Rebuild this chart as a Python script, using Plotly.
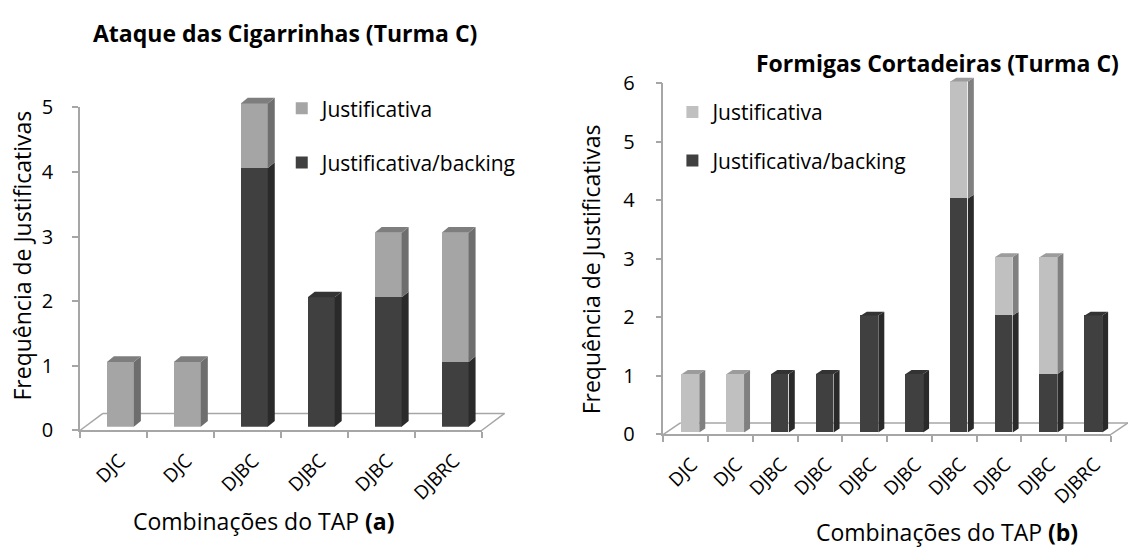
import plotly.graph_objects as go

# ---------------- data ----------------
cats_a = ["DJC", "DJC", "DJBC", "DJBC", "DJBC", "DJBRC"]
backing_a = [0, 0, 4, 2, 2, 1]        # Justificativa/backing (dark)
justif_a = [1, 1, 1, 0, 1, 2]         # Justificativa (light)

cats_b = ["DJC", "DJC", "DJBC", "DJBC", "DJBC", "DJBC", "DJBC", "DJBC", "DJBC", "DJBRC"]
backing_b = [0, 0, 1, 1, 2, 1, 4, 2, 1, 2]
justif_b = [1, 1, 0, 0, 0, 0, 2, 1, 2, 0]

title_a = "Ataque das Cigarrinhas (Turma C)"
title_b = "Formigas Cortadeiras (Turma C)"
ytitle = "Frequência de Justificativas"
xtitle_a = "Combinações do TAP <b>(a)</b>"
xtitle_b = "Combinações do TAP <b>(b)</b>"
name_j = "Justificativa"
name_jb = "Justificativa/backing"

# ---------------- layout constants (pixels) ----------------
W, H = 1128, 550
FONT = "Open Sans"
AX = "#a6a6a6"
DARK, DARK_SIDE, DARK_TOP = "#404040", "#2a2a2a", "#333333"
LA, LA_SIDE, LA_TOP = "#a5a5a5", "#6e6e6e", "#7e7e7e"
LB, LB_SIDE, LB_TOP = "#c0c0c0", "#808080", "#9c9c9c"


def fx(p):
    return p / W


def fy(p):
    return 1 - p / H


panels = [
    dict(cats=cats_a, dark=backing_a, light=justif_a, xa="x", ya="y", yb="y3",
         x0=79, x1=481, y0=438, y1=98, ymax=5, base=434,
         floor=(23, 18), depth=(7, 6), off_px=-6.5, w_px=27, standoff=15,
         light_cols=(LA, LA_SIDE, LA_TOP), legend="legend"),
    dict(cats=cats_b, dark=backing_b, light=justif_b, xa="x2", ya="y2", yb="y4",
         x0=663, x1=1111, y0=442, y1=73, ymax=6, base=440,
         floor=(17, 12), depth=(6, 4), off_px=-4, w_px=17.5, standoff=17,
         light_cols=(LB, LB_SIDE, LB_TOP), legend="legend2"),
]

fig = go.Figure()
shapes = []
layout = {}

for k, p in enumerate(panels):
    n = len(p["cats"])
    ux = (p["x1"] - p["x0"]) / n               # pixels per category
    uy = (p["y0"] - p["y1"]) / p["ymax"]       # pixels per unit
    off = p["off_px"] / ux
    wid = p["w_px"] / ux
    dxd = p["depth"][0] / ux
    dyd = p["depth"][1] / uy
    xs = list(range(n))

    # invisible trace so the visible value axis is drawn
    fig.add_trace(go.Scatter(x=xs, y=[None] * n, xaxis=p["xa"], yaxis=p["ya"], mode="markers",
                             showlegend=False, hoverinfo="skip"))
    fig.add_trace(go.Bar(x=xs, y=p["dark"], name=name_jb, xaxis=p["xa"], yaxis=p["yb"],
                         marker=dict(color=DARK, line=dict(width=0)), width=wid, offset=off,
                         legend=p["legend"], legendgroup=f"jb{k}", legendrank=2))
    fig.add_trace(go.Bar(x=xs, y=p["light"], name=name_j, xaxis=p["xa"], yaxis=p["yb"],
                         marker=dict(color=p["light_cols"][0], line=dict(width=0)), width=wid, offset=off,
                         legend=p["legend"], legendgroup=f"j{k}", legendrank=1))

    # 3D side and top faces, derived from the data
    for i in xs:
        xl = i + off
        xr = xl + wid
        segs = [(0, p["dark"][i], DARK_SIDE, DARK_TOP),
                (p["dark"][i], p["dark"][i] + p["light"][i], p["light_cols"][1], p["light_cols"][2])]
        segs = [s for s in segs if s[1] > s[0]]
        for j, (b, t, cs, ct) in enumerate(segs):
            shapes.append(dict(type="path", xref=p["xa"], yref=p["yb"], layer="above",
                               path=f"M{xr},{b} L{xr},{t} L{xr + dxd},{t + dyd} L{xr + dxd},{b + dyd} Z",
                               fillcolor=cs, line=dict(width=0)))
            if j == len(segs) - 1:
                shapes.append(dict(type="path", xref=p["xa"], yref=p["yb"], layer="above",
                                   path=f"M{xl},{t} L{xr},{t} L{xr + dxd},{t + dyd} L{xl + dxd},{t + dyd} Z",
                                   fillcolor=ct, line=dict(width=0)))

    # floor (back edge and side edges)
    fdx, fdy = p["floor"]
    for (ax, ay, bx, by) in [(p["x0"], p["y0"], p["x0"] + fdx, p["y0"] - fdy),
                             (p["x0"] + fdx, p["y0"] - fdy, p["x1"] + fdx, p["y0"] - fdy),
                             (p["x1"], p["y0"], p["x1"] + fdx, p["y0"] - fdy)]:
        shapes.append(dict(type="line", xref="paper", yref="paper", layer="below",
                           x0=fx(ax), y0=fy(ay), x1=fx(bx), y1=fy(by),
                           line=dict(color=AX, width=1.5)))

    xkey = "xaxis" if k == 0 else "xaxis2"
    ykey = "yaxis" if k == 0 else "yaxis2"
    ybkey = "yaxis3" if k == 0 else "yaxis4"
    layout[xkey] = dict(domain=[fx(p["x0"]), fx(p["x1"])], range=[-0.5, n - 0.5], anchor=p["ya"],
                        tickmode="array", tickvals=xs, ticktext=p["cats"], tickangle=-45,
                        ticks="", showline=True, linecolor=AX, linewidth=1.5, showgrid=False,
                        zeroline=False, fixedrange=True, ticklabelstandoff=10, ticklabelshift=6,
                        tickfont=dict(family=FONT, size=19, color="#000"),
                        minor=dict(tickmode="array", tickvals=[i - 0.5 for i in range(n + 1)],
                                   ticks="outside", ticklen=6, tickcolor=AX, tickwidth=1.5,
                                   showgrid=False))
    layout[ykey] = dict(domain=[fy(p["y0"]), fy(p["y1"])], range=[0, p["ymax"]], anchor=p["xa"],
                        tickmode="linear", tick0=0, dtick=1, ticks="outside", ticklen=6,
                        tickcolor=AX, tickwidth=1.5, showline=True, linecolor=AX, linewidth=1.5,
                        showgrid=False, zeroline=False, ticklabelstandoff=p["standoff"],
                        tickfont=dict(family=FONT, size=20, color="#000"))
    extra = 0.5
    layout[ybkey] = dict(domain=[fy(p["base"]), fy(p["base"] - (p["ymax"] + extra) * uy)],
                         range=[0, p["ymax"] + extra],
                         anchor=p["xa"], visible=False, showgrid=False, zeroline=False)


def ann(text, x, y, size, angle=0):
    return dict(text=text, x=fx(x), y=fy(y), xref="paper", yref="paper", xanchor="center",
                yanchor="middle", textangle=angle, showarrow=False,
                font=dict(family=FONT, size=size, color="#000"))


annotations = [
    ann(f"<b>{title_a}</b>", 284, 20, 23),
    ann(f"<b>{title_b}</b>", 937, 52, 23),
    ann(ytitle, 21, 254, 23, -90),
    ann(ytitle, 590, 268, 23, -90),
    ann(xtitle_a, 263, 533, 23),
    ann(xtitle_b, 947, 545, 23),
]

fig.update_layout(
    width=W, height=H, margin=dict(l=0, r=0, t=0, b=0),
    paper_bgcolor="white", plot_bgcolor="rgba(0,0,0,0)",
    barmode="stack", bargap=0,
    shapes=shapes, annotations=annotations,
    legend=dict(x=fx(281), y=fy(78), xanchor="left", yanchor="top", traceorder="grouped",
                tracegroupgap=24, bgcolor="rgba(0,0,0,0)",
                font=dict(family=FONT, size=21, color="#000")),
    legend2=dict(x=fx(672), y=fy(82), xanchor="left", yanchor="top", traceorder="grouped",
                 tracegroupgap=18, bgcolor="rgba(0,0,0,0)",
                 font=dict(family=FONT, size=21, color="#000")),
    **layout,
)

fig.write_html("out.html")
